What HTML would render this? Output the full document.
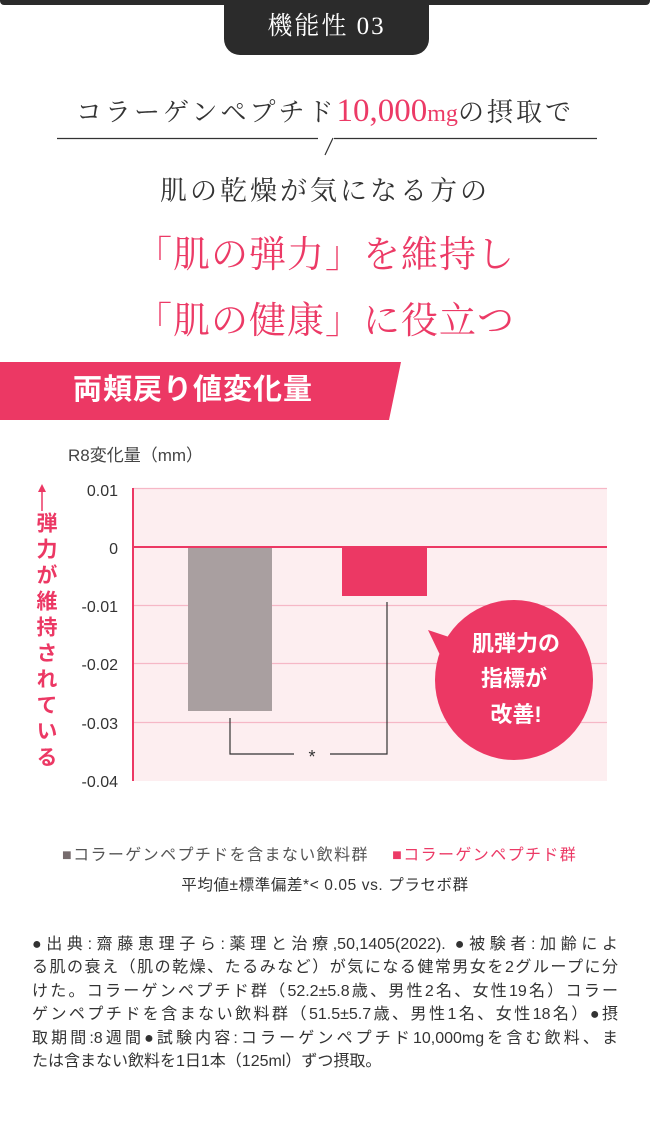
<!DOCTYPE html>
<html><head><meta charset="utf-8"><style>
*{margin:0;padding:0;box-sizing:border-box}
body{width:650px;height:1125px;background:#fff;position:relative;overflow:hidden;font-family:"Liberation Sans","Noto Sans CJK JP",sans-serif;color:#333}
.a{position:absolute;white-space:nowrap}
.serif{font-family:"Liberation Serif","Noto Serif CJK SC",serif}
.pk{color:#ec3a66}
.n div{width:586px;height:23.4px;text-align:justify;text-align-last:justify;white-space:nowrap}
</style></head><body>
<div class="a" style="left:0;top:0;width:650px;height:5px;background:#2b2b2b;border-radius:0 0 4px 4px"></div>
<div class="a serif" style="left:224px;top:0;width:205px;height:55px;background:#2b2b2b;border-radius:0 0 16px 16px;color:#fff;font-size:25px;text-align:center;line-height:54px;letter-spacing:2px">機能性 03</div>

<div class="a serif" style="left:0;width:650px;top:92px;text-align:center;font-size:26px;letter-spacing:3px;color:#333">コラーゲンペプチド<span class="pk" style="font-size:33px;letter-spacing:0">10,000</span><span class="pk" style="font-size:24px;letter-spacing:0">mg</span>の摂取で</div>
<svg class="a" style="left:0;top:0" width="650" height="160"><path d="M57 138.5H318M334 138.5H597M333 138L325 155" stroke="#333" stroke-width="1.2" fill="none"/></svg>

<div class="a serif" style="left:0;width:650px;top:169px;text-align:center;font-size:27px;letter-spacing:3px;color:#333">肌の乾燥が気になる方の</div>
<div class="a serif pk" style="left:0;width:650px;top:224px;text-align:center;font-size:37px;letter-spacing:1px">「肌の弾力」を維持し</div>
<div class="a serif pk" style="left:0;width:650px;top:290px;text-align:center;font-size:37px;letter-spacing:1px">「肌の健康」に役立つ</div>

<svg class="a" style="left:0;top:362px" width="650" height="58"><polygon points="0,0 401,0 389,58 0,58" fill="#ec3864"/></svg>
<div class="a" style="left:73px;top:371px;color:#fff;font-size:29px;font-weight:bold;line-height:38px;letter-spacing:1px">両頬戻り値変化量</div>

<div class="a" style="left:68px;top:441px;font-size:17px;color:#444">R8変化量（mm）</div>

<svg class="a" style="left:0;top:470px" width="650" height="330" font-family="Liberation Sans, Noto Sans CJK JP, sans-serif">
<rect x="133" y="18" width="474" height="293" fill="#fdeef0"/>
<g stroke="#f6b7c6" stroke-width="1.2"><path d="M133 18.5H607M133 135.5H607M133 193.5H607M133 252.5H607"/></g>
<rect x="188" y="77" width="84" height="164" fill="#a99fa0"/>
<rect x="342" y="77" width="85" height="49" fill="#ec3864"/>
<path d="M133 77H607" stroke="#ec3864" stroke-width="2"/>
<path d="M133 18V311" stroke="#ec3864" stroke-width="2"/>
<g fill="#333" font-size="16" text-anchor="end"><text x="118" y="26">0.01</text><text x="118" y="84">0</text><text x="118" y="142">-0.01</text><text x="118" y="200">-0.02</text><text x="118" y="259">-0.03</text><text x="118" y="317">-0.04</text></g>
<path d="M230 248V284H294M330 284H387V132" stroke="#333" stroke-width="1.2" fill="none"/>
<text x="312" y="293" font-size="18" text-anchor="middle" fill="#333">*</text>
<polygon points="428,160 452,168 440,185" fill="#ec3864"/>
<ellipse cx="514" cy="210" rx="79" ry="80" fill="#ec3864"/>
<g fill="#fff" font-size="22" font-weight="bold" text-anchor="middle"><text x="516" y="181">肌弾力の</text><text x="514" y="216">指標が</text><text x="516" y="252">改善!</text></g>
<path d="M42 41V20" stroke="#ec3864" stroke-width="1.5"/><polygon points="38,22 46,22 42,14" fill="#ec3864"/>
</svg>
<div class="a" style="left:30px;top:512px;writing-mode:vertical-rl;font-size:21px;color:#ec3864;font-weight:bold;letter-spacing:5px">弾力が維持されている</div>

<div class="a" style="left:62px;top:841px;font-size:16px;color:#555;letter-spacing:1.4px"><span style="color:#766b6d">■</span>コラーゲンペプチドを含まない飲料群　 <span class="pk">■コラーゲンペプチド群</span></div>
<div class="a" style="left:0;width:650px;top:873px;text-align:center;font-size:15.5px;letter-spacing:0.6px;color:#333">平均値±標準偏差*&lt; 0.05 vs. プラセボ群</div>
<div class="a n" style="left:32px;top:933px;font-size:16px;line-height:23.4px;color:#333">
<div>●出典:齋藤恵理子ら:薬理と治療,50,1405(2022). ●被験者:加齢によ</div>
<div>る肌の衰え（肌の乾燥、たるみなど）が気になる健常男女を2グループに分</div>
<div>けた。コラーゲンペプチド群（52.2±5.8歳、男性2名、女性19名）コラー</div>
<div>ゲンペプチドを含まない飲料群（51.5±5.7歳、男性1名、女性18名）●摂</div>
<div>取期間:8週間●試験内容:コラーゲンペプチド10,000mgを含む飲料、ま</div>
<div style="text-align-last:left">たは含まない飲料を1日1本（125ml）ずつ摂取。</div>
</div>
</body></html>
